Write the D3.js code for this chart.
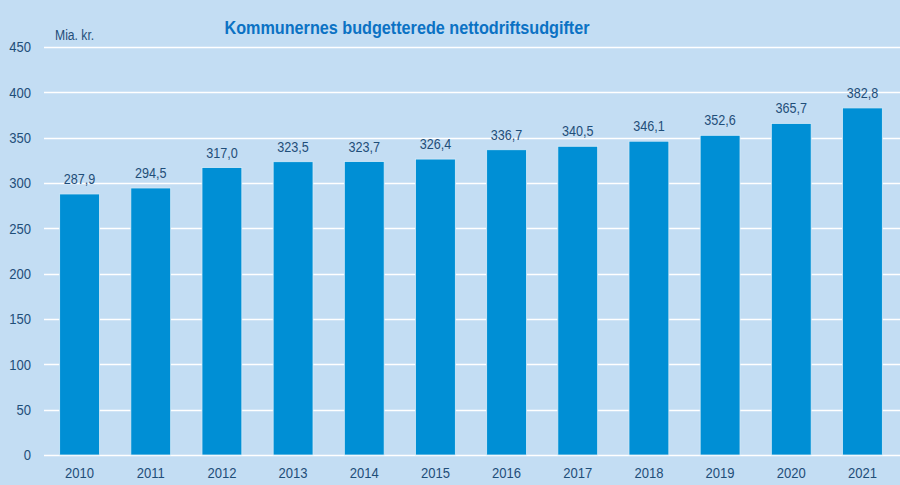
<!DOCTYPE html>
<html>
<head>
<meta charset="utf-8">
<script src="https://cdn.jsdelivr.net/npm/d3@7"></script>
<style>
  body { margin: 0; background: #c3ddf3; }
  svg { display: block; font-family: 'Liberation Sans', Arial, sans-serif; }
</style>
</head>
<body>
<svg id="chart"></svg>
<script>
var years = ['2010', '2011', '2012', '2013', '2014', '2015', '2016', '2017', '2018', '2019', '2020', '2021'];
var values = [287.9, 294.5, 317.0, 323.5, 323.7, 326.4, 336.7, 340.5, 346.1, 352.6, 365.7, 382.8];
var yTicks = [0, 50, 100, 150, 200, 250, 300, 350, 400, 450];

var width = 900, height = 485;
var margin = { top: 47, right: 2, bottom: 30, left: 44 };
var squeeze = 0.87; // the source font is a bit narrower than Arial

var svg = d3.select('#chart')
  .attr('width', width)
  .attr('height', height);

svg.append('rect')
  .attr('width', width).attr('height', height)
  .attr('fill', '#c3ddf3');

var x = d3.scaleBand()
  .domain(years)
  .range([margin.left, width - margin.right])
  .paddingInner(0.44)
  .paddingOuter(0.22);

var y = d3.scaleLinear()
  .domain([0, 450])
  .range([height - margin.bottom, margin.top]);

// gridlines
svg.append('g')
  .selectAll('line')
  .data(yTicks)
  .enter()
  .append('line')
  .attr('x1', margin.left)
  .attr('x2', width)
  .attr('y1', function(d) { return Math.round(y(d)) + 0.5; })
  .attr('y2', function(d) { return Math.round(y(d)) + 0.5; })
  .attr('stroke', '#ffffff')
  .attr('stroke-width', 1.3);

// y axis labels
var yAxis = d3.axisLeft(y).tickValues(yTicks).tickSize(0).tickPadding(0);
var yAxisEl = svg.append('g')
  .attr('transform', 'translate(31,0)')
  .call(yAxis);
yAxisEl.select('.domain').remove();
yAxisEl.selectAll('text')
  .attr('font-size', '15px')
  .attr('font-family', "'Liberation Sans', Arial, sans-serif")
  .attr('fill', '#1f4e79')
  .attr('transform', 'scale(' + squeeze + ',1)');

// x axis labels
var xAxis = d3.axisBottom(x).tickSize(0).tickPadding(0);
var xAxisEl = svg.append('g')
  .attr('transform', 'translate(0,' + (height - margin.bottom + 12) + ')')
  .call(xAxis);
xAxisEl.select('.domain').remove();
xAxisEl.selectAll('text')
  .attr('font-size', '15px')
  .attr('font-family', "'Liberation Sans', Arial, sans-serif")
  .attr('fill', '#1f4e79')
  .attr('transform', 'scale(' + squeeze + ',1)');

// bars
svg.append('g')
  .selectAll('rect')
  .data(values)
  .enter()
  .append('rect')
  .attr('x', function(d, i) { return x(years[i]); })
  .attr('y', function(d) { return y(d); })
  .attr('width', x.bandwidth())
  .attr('height', function(d) { return y(0) - y(d); })
  .attr('fill', '#008fd5')
  .attr('stroke', '#d6ebf8')
  .attr('stroke-width', 0.8);

// value labels
svg.append('g')
  .selectAll('text')
  .data(values)
  .enter()
  .append('text')
  .attr('transform', function(d, i) {
    return 'translate(' + [x(years[i]) + x.bandwidth() / 2, y(d) - 10] + ') scale(' + squeeze + ',1)';
  })
  .attr('text-anchor', 'middle')
  .attr('font-size', '14.5px')
  .attr('fill', '#1f4e79')
  .text(function(d) { return d.toFixed(1).replace('.', ','); });

// title and unit
svg.append('text')
  .attr('transform', 'translate(407,33.5) scale(0.9,1)')
  .attr('text-anchor', 'middle')
  .attr('font-size', '18px')
  .attr('font-weight', 'bold')
  .attr('fill', '#0b72c4')
  .text('Kommunernes budgetterede nettodriftsudgifter');

svg.append('text')
  .attr('transform', 'translate(55,40) scale(' + squeeze + ',1)')
  .attr('font-size', '14px')
  .attr('fill', '#1f4e79')
  .text('Mia. kr.');
</script>
</body>
</html>
